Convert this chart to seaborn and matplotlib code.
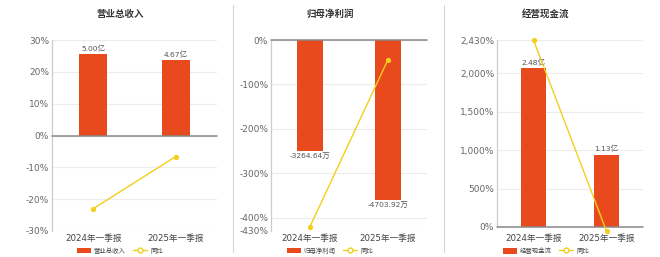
import matplotlib
matplotlib.use('Agg')
import matplotlib.pyplot as plt
import seaborn as sns
import pandas as pd
from matplotlib.lines import Line2D
from matplotlib.patches import Patch

# ---- data ----
periods = ['2024年一季报', '2025年一季报']

revenue = [5.00, 4.67]              # 亿
revenue_yoy = [-23.0, -6.6]         # %
net_profit = [-3264.64, -4703.92]   # 万
net_profit_yoy = [-420.0, -44.09]   # %
cash_flow = [2.48, 1.13]            # 亿
cash_flow_yoy = [2430.0, -54.44]    # %

titles = ['营业总收入', '归母净利润', '经营现金流']
units = ['亿', '万', '亿']
yoy_label = '同比'

# ---- style ----
BAR = '#E8491D'
LINE = '#F2CF1D'
TICK = '#666666'
sns.set_theme(style='white')
plt.rcParams['font.family'] = ['DejaVu Sans', 'Noto Sans CJK SC']

W, H = 660, 257
fig = plt.figure(figsize=(W / 100, H / 100), dpi=100)
fig.patch.set_facecolor('white')


def px_rect(left, right, top, bottom):
    return [left / W, 1 - bottom / H, (right - left) / W, (bottom - top) / H]


panels = [
    dict(values=revenue, yoy=revenue_yoy, rect=px_rect(52, 217, 40, 231),
         pct_lim=(-30, 30), pct_ticks=[-30, -20, -10, 0, 10, 20, 30],
         bar_per_pct=5.00 / 25.5, title_x=120, xpad=2),
    dict(values=net_profit, yoy=net_profit_yoy, rect=px_rect(271, 427, 40, 231),
         pct_lim=(-430, 0), pct_ticks=[-430, -400, -300, -200, -100, 0],
         bar_per_pct=3264.64 / 250.0, title_x=330, xpad=2),
    dict(values=cash_flow, yoy=cash_flow_yoy, rect=px_rect(497, 643, 40, 227),
         pct_lim=(0, 2430), pct_ticks=[0, 500, 1000, 1500, 2000, 2430],
         bar_per_pct=2.48 / 2066.0, title_x=546, xpad=5),
]

for i, p in enumerate(panels):
    ax = fig.add_axes(p['rect'])
    ax2 = ax.twinx()
    ax.set_zorder(ax2.get_zorder() + 1)
    ax.patch.set_visible(False)

    df = pd.DataFrame({'period': periods, 'value': p['values'], 'yoy': p['yoy']})

    # bars on the secondary (hidden) scale
    sns.barplot(data=df, x='period', y='value', ax=ax2, color=BAR,
                width=0.34, saturation=1, edgecolor='none', zorder=2)
    lo, hi = p['pct_lim']
    k = p['bar_per_pct']
    ax2.set_ylim(lo * k, hi * k)
    ax2.set_yticks([t * k for t in p['pct_ticks']])
    ax2.grid(axis='y', color='#ececec', linewidth=0.8)
    ax2.set_axisbelow(True)
    ax2.tick_params(right=False, labelright=False)
    for s in ax2.spines.values():
        s.set_visible(False)
    ax2.set_ylabel('')
    ax2.set_xlabel('')

    # value labels on bars
    for xi, v in enumerate(p['values']):
        txt = f'{v:.2f}{units[i]}'
        if v >= 0:
            ax2.annotate(txt, (xi, v), xytext=(0, 1.5), textcoords='offset points',
                         ha='center', va='bottom', fontsize=5.4, color='#555555')
        else:
            ax2.annotate(txt, (xi, v), xytext=(0, -0.5), textcoords='offset points',
                         ha='center', va='top', fontsize=5.4, color='#555555')

    # year-over-year line on the percent scale
    sns.lineplot(data=df, x='period', y='yoy', ax=ax, color=LINE, linewidth=1.0,
                 marker='o', markersize=3, markeredgecolor=LINE,
                 markerfacecolor=LINE, clip_on=False, zorder=5)
    ax.set_ylim(lo, hi)
    ax.set_yticks(p['pct_ticks'])
    ax.set_yticklabels([f'{t:,}%' for t in p['pct_ticks']])
    ax.set_xlim(-0.5, 1.5)
    ax.set_ylabel('')
    ax.set_xlabel('')
    ax.tick_params(axis='y', length=0, pad=2, labelsize=6.5, labelcolor=TICK)
    ax.tick_params(axis='x', length=0, pad=p['xpad'], labelsize=6.2, labelcolor='#444444')
    for name, s in ax.spines.items():
        s.set_visible(name == 'left')
    ax.spines['left'].set_color('#cccccc')
    ax.spines['left'].set_linewidth(0.9)
    ax.axhline(0, color='#888888', linewidth=1.1, zorder=4, clip_on=False)

    fig.text(p['title_x'] / W, 1 - 14 / H, titles[i], ha='center', va='center',
             fontsize=6.8, fontweight='bold', color='#333333')

    handles = [Patch(facecolor=BAR, edgecolor='none'),
               Line2D([0], [0], color=LINE, linewidth=1.0, marker='o', markersize=3.5,
                      markerfacecolor='white', markeredgecolor=LINE)]
    ax.legend(handles, [titles[i], yoy_label], loc='center', ncol=2,
              bbox_to_anchor=(p['title_x'] / W, 1 - 250.5 / H),
              bbox_transform=fig.transFigure, frameon=False, fontsize=4.6,
              handlelength=2.2, handleheight=1.0, columnspacing=1.2, handletextpad=0.5,
              labelcolor='#444444', borderpad=0.1)

# panel separators
for x in (233, 444):
    fig.add_artist(Line2D([x / W, x / W], [0.02, 0.98], color='#d5d5d5',
                          linewidth=0.8, transform=fig.transFigure))

fig.savefig('out.png', dpi=100, facecolor='white')
